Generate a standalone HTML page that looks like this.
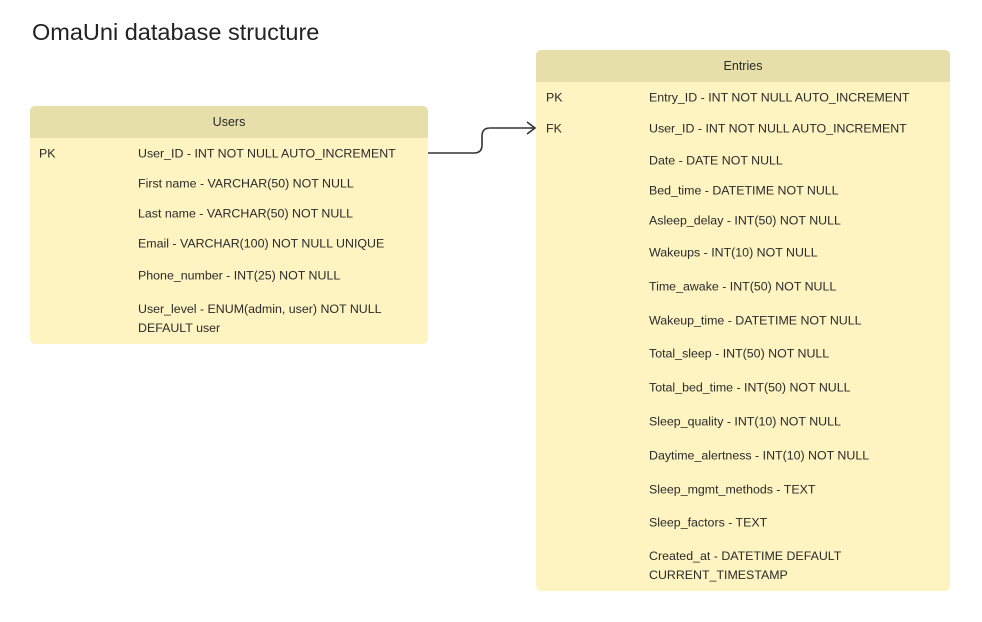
<!DOCTYPE html>
<html><head><meta charset="utf-8"><style>
body{margin:0;width:982px;height:622px;background:#fff;position:relative;font-family:"Liberation Sans",sans-serif;color:#2a2a2a;overflow:hidden}
.t{position:absolute;font-size:12.4px;white-space:nowrap;line-height:19px;transform:translateY(-50%);margin-top:1px}
.box{position:absolute;background:#fef4c1;border-radius:5px;overflow:hidden}
.hd{background:#e7dfaa;height:32px;line-height:32px;text-align:center;font-size:12.5px}
</style></head><body>
<div style="position:absolute;left:32px;top:19px;font-size:23.5px;color:#222">OmaUni database structure</div>

<div class="box" style="left:30px;top:106px;width:398px;height:238px"><div class="hd">Users</div></div>
<div class="t" style="left:39px;top:153px">PK</div>
<div class="t" style="left:138px;top:153px">User_ID - INT NOT NULL AUTO_INCREMENT</div>
<div class="t" style="left:138px;top:183px">First name - VARCHAR(50) NOT NULL</div>
<div class="t" style="left:138px;top:213px">Last name - VARCHAR(50) NOT NULL</div>
<div class="t" style="left:138px;top:243px">Email - VARCHAR(100) NOT NULL UNIQUE</div>
<div class="t" style="left:138px;top:275px">Phone_number - INT(25) NOT NULL</div>
<div class="t" style="left:138px;top:318px">User_level - ENUM(admin, user) NOT NULL<br>DEFAULT user</div>

<div class="box" style="left:536px;top:50px;width:414px;height:541px"><div class="hd">Entries</div></div>
<div class="t" style="left:546px;top:97px">PK</div>
<div class="t" style="left:546px;top:128px">FK</div>
<div class="t" style="left:649px;top:97px">Entry_ID - INT NOT NULL AUTO_INCREMENT</div>
<div class="t" style="left:649px;top:128px">User_ID - INT NOT NULL AUTO_INCREMENT</div>
<div class="t" style="left:649px;top:160px">Date - DATE NOT NULL</div>
<div class="t" style="left:649px;top:190px">Bed_time - DATETIME NOT NULL</div>
<div class="t" style="left:649px;top:220px">Asleep_delay - INT(50) NOT NULL</div>
<div class="t" style="left:649px;top:252px">Wakeups - INT(10) NOT NULL</div>
<div class="t" style="left:649px;top:286px">Time_awake - INT(50) NOT NULL</div>
<div class="t" style="left:649px;top:320px">Wakeup_time - DATETIME NOT NULL</div>
<div class="t" style="left:649px;top:353px">Total_sleep - INT(50) NOT NULL</div>
<div class="t" style="left:649px;top:387px">Total_bed_time - INT(50) NOT NULL</div>
<div class="t" style="left:649px;top:421px">Sleep_quality - INT(10) NOT NULL</div>
<div class="t" style="left:649px;top:455px">Daytime_alertness - INT(10) NOT NULL</div>
<div class="t" style="left:649px;top:489px">Sleep_mgmt_methods - TEXT</div>
<div class="t" style="left:649px;top:522px">Sleep_factors - TEXT</div>
<div class="t" style="left:649px;top:565px">Created_at - DATETIME DEFAULT<br>CURRENT_TIMESTAMP</div>

<svg width="982" height="622" style="position:absolute;left:0;top:0">
<path d="M428 153 H474 Q482 153 482 145 V136 Q482 128 490 128 H534" fill="none" stroke="#333" stroke-width="1.6"/>
<path d="M527 122 L535 128 L527 134" fill="none" stroke="#333" stroke-width="1.6"/>
</svg>
</body></html>
